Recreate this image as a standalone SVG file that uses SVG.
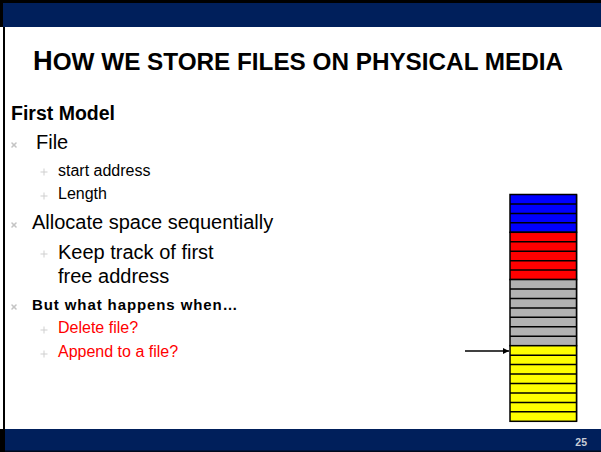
<svg xmlns="http://www.w3.org/2000/svg" width="601" height="452" viewBox="0 0 601 452">
<defs>
<style>
.t{font-family:"Liberation Sans",Arial,sans-serif;}
.b1{font-size:20px;fill:#000;}
.b2{font-size:16px;fill:#000;}
.red{fill:#ff0000;}
.x{stroke:#c4c4c4;stroke-width:1.6;stroke-linecap:round;}
.p{stroke:#cfcfcf;stroke-width:1;}
.row{stroke:#000;stroke-width:1.5;}
.blue{fill:#0000ff;}
.redf{fill:#ff0000;}
.gray{fill:#b2b2b2;}
.yel{fill:#ffff00;}
</style>
<linearGradient id="ul" x1="0" x2="1" y1="0" y2="0">
<stop offset="0" stop-color="#e8e8e8"/>
<stop offset="1" stop-color="#c8c8c8"/>
</linearGradient>
<marker id="ah" viewBox="0 0 10 10" refX="10" refY="5" markerWidth="6" markerHeight="6" markerUnits="userSpaceOnUse" orient="auto">
<path d="M0,0 L10,5 L0,10 z" fill="#000"/>
</marker>
</defs>
<rect x="0" y="0" width="601" height="452" fill="#fff"/>
<g id="frame">
<rect x="0" y="0" width="601" height="3" fill="#000"/>
<rect x="0" y="3" width="3" height="24" fill="#000"/>
<rect x="3" y="3" width="598" height="24" fill="#001f5b"/>
<rect x="3" y="27" width="2" height="402" fill="#000"/>
<rect x="0" y="429" width="5" height="23" fill="#000"/>
<rect x="5" y="429" width="596" height="23" fill="#001f5b"/>
<rect x="5" y="450.5" width="596" height="1.5" fill="#000a1e"/>
<text class="t" x="587" y="446" text-anchor="end" font-size="10.5" font-weight="bold" fill="#c8ccd6">25</text>
</g>
<g id="title">
<line x1="33" y1="72" x2="601" y2="72" stroke="url(#ul)" stroke-width="1.5"/>
<text class="t" x="33" y="70" font-weight="bold" fill="#000" textLength="530" lengthAdjust="spacingAndGlyphs"><tspan font-size="27.5">H</tspan><tspan font-size="24.5">OW WE STORE FILES ON PHYSICAL MEDIA</tspan></text>
</g>
<g id="body">
<text class="t" x="11" y="120" font-size="19.5" font-weight="bold">First Model</text>
<g class="x"><line x1="12" y1="143" x2="16" y2="147"/><line x1="16" y1="143" x2="12" y2="147"/></g>
<text class="t b1" x="36" y="149">File</text>
<g class="p"><line x1="40.5" y1="172" x2="47.5" y2="172"/><line x1="44" y1="168.5" x2="44" y2="175.5"/></g>
<text class="t b2" x="58" y="176">start address</text>
<g class="p"><line x1="40.5" y1="196" x2="47.5" y2="196"/><line x1="44" y1="192.5" x2="44" y2="199.5"/></g>
<text class="t b2" x="58" y="199">Length</text>
<g class="x"><line x1="12" y1="223" x2="16" y2="227"/><line x1="16" y1="223" x2="12" y2="227"/></g>
<text class="t b1" x="32" y="229">Allocate space sequentially</text>
<g class="p"><line x1="40.5" y1="254" x2="47.5" y2="254"/><line x1="44" y1="250.5" x2="44" y2="257.5"/></g>
<text class="t b1" x="58" y="259">Keep track of first</text>
<text class="t b1" x="58" y="283">free address</text>
<g class="x"><line x1="12" y1="305" x2="16" y2="309"/><line x1="16" y1="305" x2="12" y2="309"/></g>
<text class="t" x="32" y="310" font-size="15" font-weight="bold" letter-spacing="0.9">But what happens when…</text>
<g class="p"><line x1="40.5" y1="330" x2="47.5" y2="330"/><line x1="44" y1="326.5" x2="44" y2="333.5"/></g>
<text class="t b2 red" x="58" y="333">Delete file?</text>
<g class="p"><line x1="40.5" y1="354" x2="47.5" y2="354"/><line x1="44" y1="350.5" x2="44" y2="357.5"/></g>
<text class="t b2 red" x="58" y="357">Append to a file?</text>
</g>
<g id="memory">
<rect x="511" y="194.5" width="67" height="227" fill="#c0c0c0"/>
<rect class="row blue" x="510" y="194.5" width="66.5" height="37.8"/>
<rect class="row redf" x="510" y="232.3" width="66.5" height="47.25"/>
<rect class="row gray" x="510" y="279.55" width="66.5" height="66.15"/>
<rect class="row yel" x="510" y="345.7" width="66.5" height="75.6"/>
<g class="row">
<line x1="510" y1="203.95" x2="576.5" y2="203.95"/>
<line x1="510" y1="213.4" x2="576.5" y2="213.4"/>
<line x1="510" y1="222.85" x2="576.5" y2="222.85"/>
<line x1="510" y1="241.75" x2="576.5" y2="241.75"/>
<line x1="510" y1="251.2" x2="576.5" y2="251.2"/>
<line x1="510" y1="260.65" x2="576.5" y2="260.65"/>
<line x1="510" y1="270.1" x2="576.5" y2="270.1"/>
<line x1="510" y1="289" x2="576.5" y2="289"/>
<line x1="510" y1="298.45" x2="576.5" y2="298.45"/>
<line x1="510" y1="307.9" x2="576.5" y2="307.9"/>
<line x1="510" y1="317.35" x2="576.5" y2="317.35"/>
<line x1="510" y1="326.8" x2="576.5" y2="326.8"/>
<line x1="510" y1="336.25" x2="576.5" y2="336.25"/>
<line x1="510" y1="355.15" x2="576.5" y2="355.15"/>
<line x1="510" y1="364.6" x2="576.5" y2="364.6"/>
<line x1="510" y1="374.05" x2="576.5" y2="374.05"/>
<line x1="510" y1="383.5" x2="576.5" y2="383.5"/>
<line x1="510" y1="392.95" x2="576.5" y2="392.95"/>
<line x1="510" y1="402.4" x2="576.5" y2="402.4"/>
<line x1="510" y1="411.85" x2="576.5" y2="411.85"/>
</g>
</g>
<g id="connectors">
<line x1="465" y1="351" x2="509" y2="351" stroke="#000" stroke-width="1.5" marker-end="url(#ah)"/>
</g>
</svg>
